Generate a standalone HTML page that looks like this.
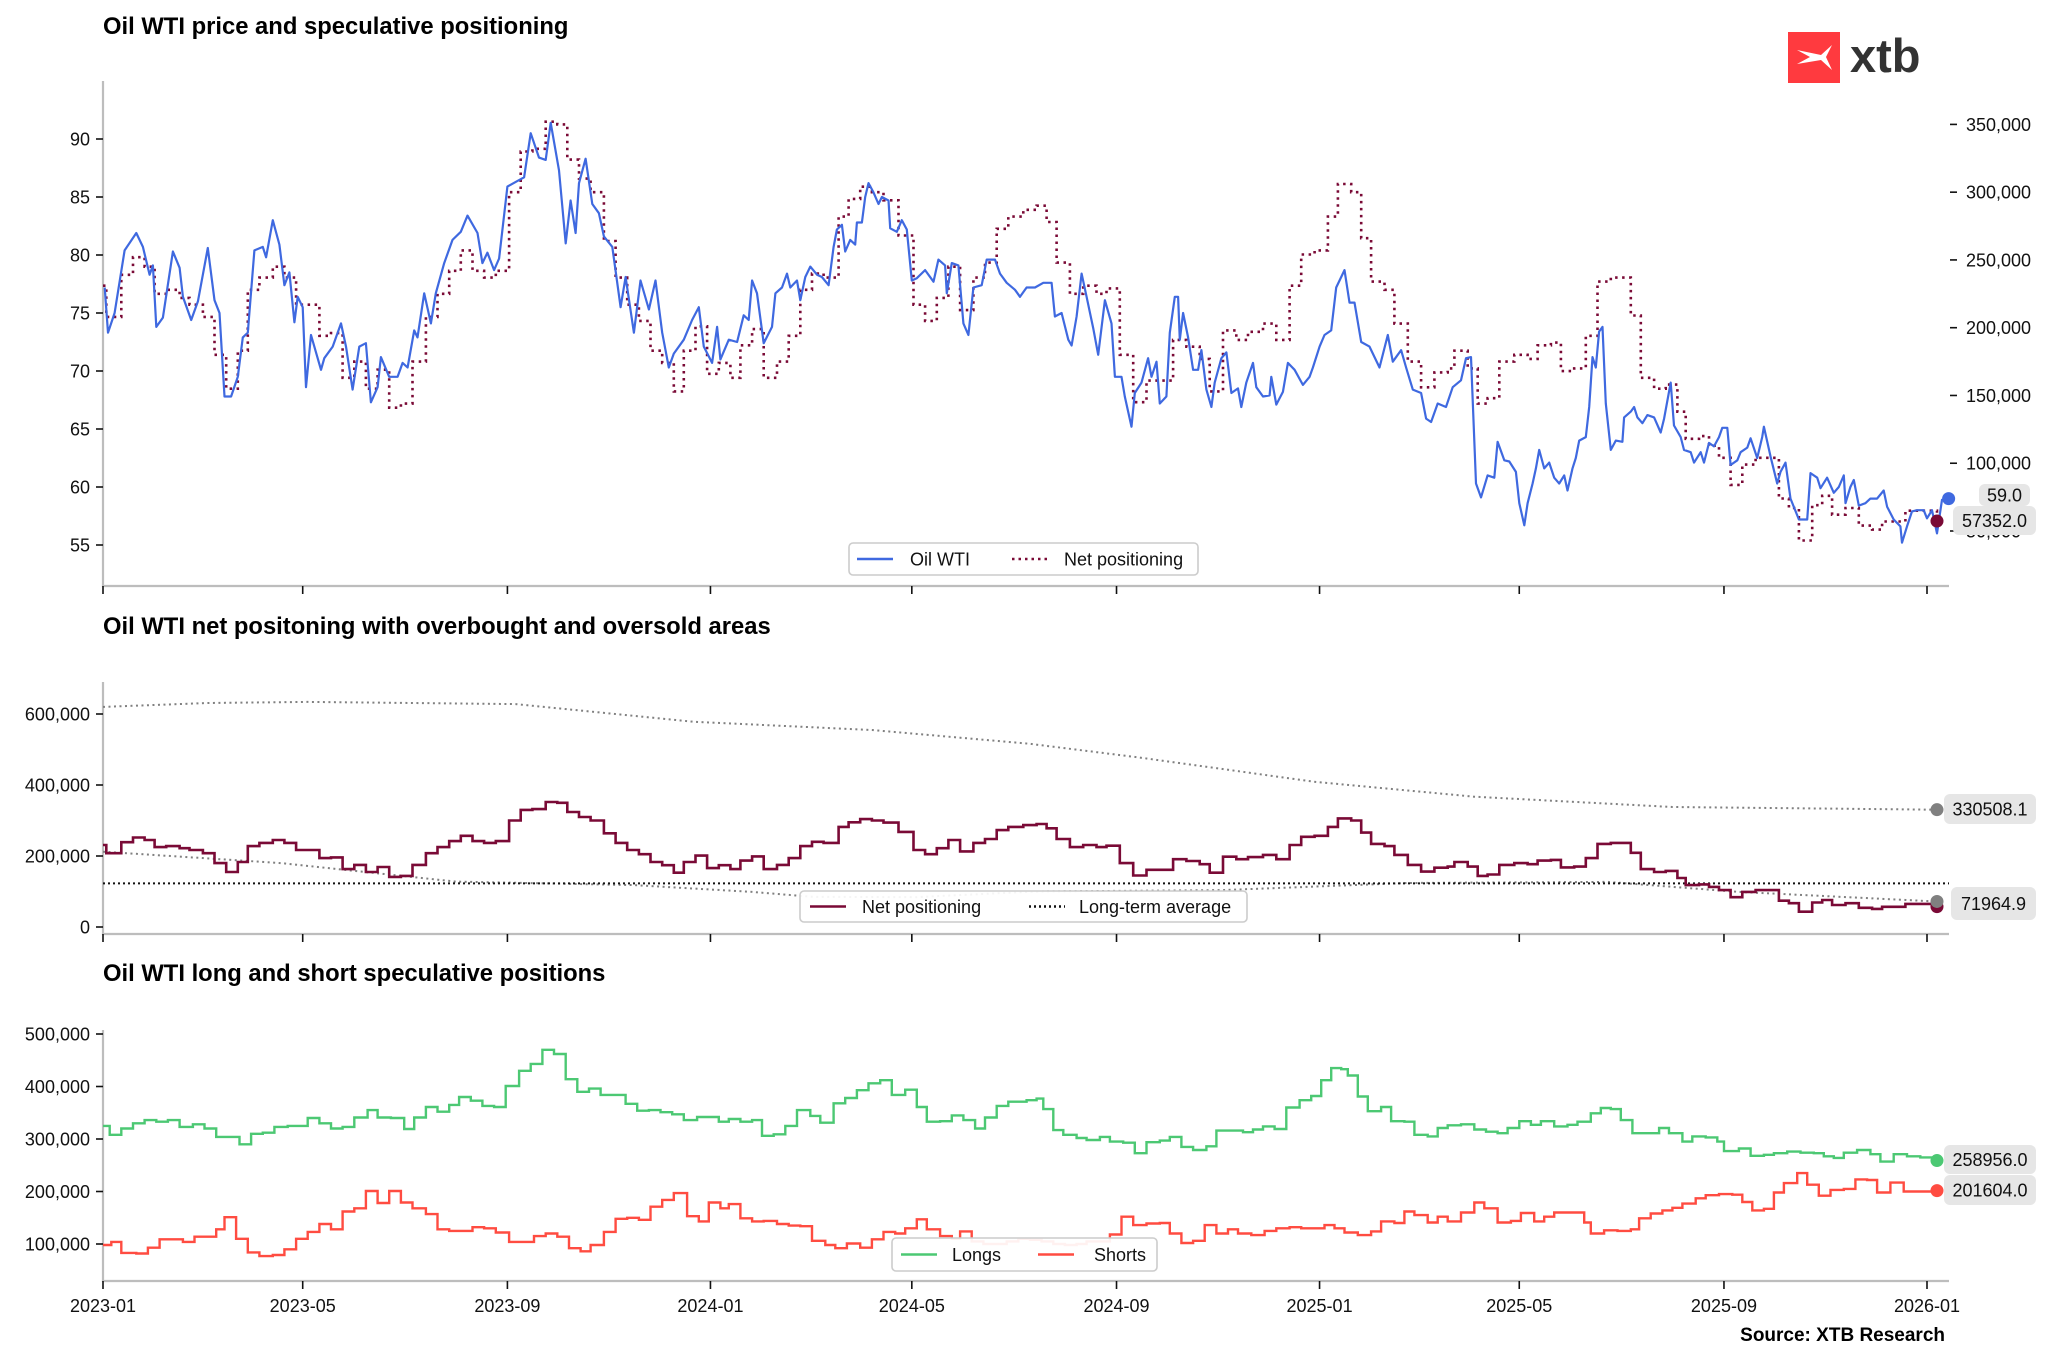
<!DOCTYPE html>
<html><head><meta charset="utf-8"><title>Oil WTI positioning</title>
<style>
html,body{margin:0;padding:0;background:#fff;}
svg{display:block;font-family:"Liberation Sans",Arial,sans-serif;}
.tk{font-size:18px;fill:#111;}
.ttl{font-size:23.8px;font-weight:bold;fill:#000;}
.lg{font-size:18px;fill:#111;}
</style></head>
<body>
<svg id="chart" width="2048" height="1362" viewBox="0 0 2048 1362" xmlns="http://www.w3.org/2000/svg">
  <rect width="2048" height="1362" fill="#fff"/>
  <text class="ttl" x="103" y="34">Oil WTI price and speculative positioning</text>
  <text class="ttl" x="103" y="634">Oil WTI net positoning with overbought and oversold areas</text>
  <text class="ttl" x="103" y="981">Oil WTI long and short speculative positions</text>
  <g>
    <rect x="1788" y="32" width="52" height="51" fill="#ff3a3f"/>
    <path d="M1797 50 L1821 55 L1832 45 L1826 57 L1832 70 L1821 60 L1797 64 L1810 57 Z" fill="#fff"/>
    <text x="1850" y="72" font-size="47" font-weight="bold" fill="#333">xtb</text>
  </g>
  <g id="layer"></g>
  <text x="1945" y="1341" text-anchor="end" font-size="19" font-weight="bold" fill="#000">Source: XTB Research</text>
</svg>
<script>
// ---- data (days since 2023-01-01) ----
const priceDays=[1,3,7,13,20,24,28,30,32,36,42,46,48,53,57,63,67,70,73,77,81,84,87,91,96,98,102,106,109,112,115,117,120,122,125,131,133,138,143,146,150,154,158,161,165,167,172,177,180,183,187,189,193,197,200,205,210,215,219,225,228,231,235,238,243,248,253,257,262,266,269,274,278,281,284,286,290,294,298,301,306,311,314,319,323,328,332,336,340,343,349,354,358,361,366,369,371,376,381,385,388,390,393,397,402,404,408,411,413,417,419,422,425,429,432,436,439,441,444,446,449,452,453,456,458,460,463,466,468,472,473,477,480,483,486,489,494,499,502,506,507,510,514,517,520,523,528,531,536,539,543,548,551,555,560,565,570,572,576,580,582,585,588,591,595,598,602,606,608,612,614,618,620,624,628,630,633,635,639,641,644,646,647,649,652,655,658,660,663,666,668,672,675,678,682,684,687,691,693,697,701,702,705,709,712,716,721,725,727,731,734,738,741,746,749,752,756,761,767,772,775,780,783,787,792,795,798,802,807,811,816,819,822,825,828,832,836,838,842,845,849,851,854,856,859,861,863,866,869,872,875,878,880,883,885,887,891,893,895,897,899,901,903,906,909,913,914,918,920,922,925,928,932,936,938,942,944,948,950,954,956,960,962,965,968,971,973,976,978,982,984,988,990,994,997,998,1002,1006,1008,1011,1014,1019,1024,1026,1030,1032,1036,1040,1043,1046,1047,1050,1052,1055,1059,1062,1066,1070,1072,1076,1080,1081,1084,1087,1090,1094,1096,1099,1102,1105,1109];
const priceVals=[77.2,73.3,75,80.4,81.9,80.7,78.3,79.1,73.8,74.6,80.3,78.9,76.4,74.4,76,80.6,76.1,75,67.8,67.8,69.5,72.9,73.3,80.4,80.7,79.8,83,80.9,77.4,78.5,74.2,76.4,75.5,68.6,73.1,70.1,71.1,72.1,74.1,72.1,68.4,72.1,72.4,67.3,68.6,71.2,69.5,69.5,70.7,70.3,73.5,72.9,76.7,74.1,76.7,79.3,81.3,82,83.4,81.9,79.3,80.2,78.7,79.7,85.9,86.3,86.7,90.5,88.4,88.2,91.4,87.3,81,84.7,81.9,86.2,88.3,84.4,83.6,81.6,80.7,75.5,78.1,73.3,77.8,75.3,77.8,73.3,70.3,71.5,72.7,74.4,75.5,72.1,70.7,73.8,71,72.7,72.5,74.8,74.4,77.8,76.7,72.4,73.8,76.7,77.2,78.4,77.2,77.8,76.1,78.1,79,78.3,78.1,77.4,80.7,82.2,82.6,80.3,81.3,80.9,82.8,82.8,85,86.2,85.4,84.4,85,84.7,82.3,82,83,82.2,77.8,78,78.7,77.7,79.6,79.1,76.7,79.3,79.1,74.1,73.1,77.2,77.4,79.6,79.6,78.4,77.6,77,76.4,77.2,77.2,77.6,77.6,74.7,75,72.7,72.2,74.7,78.4,76.4,73.7,71.4,76.1,74.1,69.5,69.5,67.8,65.2,68.1,69,71.1,69.5,70.8,67.2,67.8,73.3,76.4,76.4,72.7,75,72.9,70.1,70.1,71.8,68.4,66.9,69,71.1,71.6,68.1,68.5,66.9,69,70.7,68.6,67.8,67.9,69.5,67.1,68.2,70.7,70.1,68.8,69.5,70.3,72.1,73.1,73.5,77.2,78.7,75.9,75.9,72.5,72.1,70.3,73.1,70.8,71.8,70.3,68.4,68.1,65.9,65.6,67.2,66.9,68.6,69.2,71.1,71.2,60.3,59.1,61,60.8,63.9,62.3,62.2,61.3,58.6,56.7,58.6,60.3,61.6,63.2,61.6,62.1,60.8,60.3,61,59.7,61.6,62.5,64,64.3,66.9,71.2,70.3,73.4,73.8,67.2,63.2,64,63.9,66,66.5,66.9,66,65.5,66.2,66,64.7,65.9,69,65.3,64.3,63.2,63,62.1,63,62.1,63.8,63.5,64.3,65.1,65.1,61.9,62.3,63,63.4,64.2,62.5,64.3,65.2,62.6,60.3,61.3,62.1,59,57.2,57.2,61.2,60.8,59.9,60.8,59.5,60,61,58.6,60,60.6,58.4,58.6,59,59,59.7,58.3,57.2,56.6,55.2,56.6,57.9,58,58,57.3,58,56,58.9,59];
const netDays=[0,2,11,18,25,31,38,46,52,60,67,74,81,87,94,102,109,116,123,130,137,144,151,158,165,172,179,186,194,201,208,215,222,229,236,244,251,258,266,273,279,286,293,301,308,315,322,329,336,343,349,356,363,370,377,383,390,397,405,412,419,426,433,442,448,455,462,469,478,487,494,501,508,515,523,530,537,544,553,561,567,573,581,589,597,603,611,619,627,635,643,651,659,665,673,681,688,697,705,713,720,728,736,742,750,756,762,770,776,784,792,800,808,812,820,826,832,839,848,856,862,870,876,884,891,898,906,912,918,924,932,939,946,951,959,965,971,978,985,993,1001,1007,1013,1019,1027,1033,1039,1047,1055,1063,1069,1077,1083,1093,1102];
const netVals=[231000,208000,239000,252000,245000,225000,228000,222000,217000,208000,180000,155000,183000,228000,237000,245000,237000,217000,217000,194000,196000,163000,175000,155000,169000,141000,144000,175000,208000,225000,242000,257000,242000,237000,242000,300000,330000,332000,352000,350000,324000,310000,300000,264000,237000,217000,205000,183000,174000,153000,183000,201000,166000,174000,163000,187000,199000,163000,175000,194000,228000,240000,237000,282000,295000,304000,300000,294000,268000,217000,205000,222000,245000,213000,237000,248000,273000,282000,287000,290000,278000,248000,225000,231000,225000,229000,180000,145000,161000,161000,191000,186000,177000,153000,198000,191000,197000,203000,191000,231000,254000,257000,282000,306000,300000,266000,234000,228000,203000,175000,156000,167000,170000,183000,170000,144000,148000,175000,180000,177000,187000,189000,168000,170000,194000,234000,237000,237000,209000,163000,155000,158000,138000,118000,120000,113000,104000,84000,99000,104000,104000,74000,67000,43000,69000,76000,62000,67000,54000,51000,57000,57000,65000,65000,57352];
const upperDays=[0,63,123,248,355,462,557,625,728,824,943,1102];
const upperVals=[620000,631000,634000,628000,578000,555000,516000,476000,409000,367000,338000,330508.1];
const lowerDays=[0,107,212,319,390,426,488,560,673,784,904,983,1102];
const lowerVals=[212000,180000,128000,118000,99000,85000,84000,100000,104000,124000,127000,99000,71964.9];
const longTermAvg=123000;
const longDays=[0,4,11,18,25,32,39,46,54,61,68,75,82,89,96,103,111,118,123,130,137,144,151,159,165,173,181,187,194,201,208,214,221,228,235,242,250,257,264,271,278,285,292,299,308,314,321,328,335,342,349,357,364,370,376,383,390,396,403,410,417,425,431,439,446,453,460,467,474,482,489,495,503,510,517,524,530,537,544,551,555,561,565,571,577,585,591,599,605,613,620,627,635,641,648,655,663,669,677,685,691,697,704,711,719,726,732,738,744,748,754,760,768,774,782,788,796,802,808,816,824,831,838,844,851,858,864,872,880,886,894,900,906,912,919,928,935,941,949,955,963,970,974,983,990,998,1004,1012,1020,1028,1034,1040,1046,1054,1062,1068,1076,1084,1092,1102];
const longVals=[325000,308000,320000,330000,336000,333000,336000,323000,328000,320000,304000,304000,290000,310000,312000,323000,325000,325000,340000,330000,320000,323000,341000,355000,341000,340000,319000,341000,361000,352000,365000,380000,373000,363000,361000,401000,430000,443000,470000,462000,414000,390000,396000,384000,384000,367000,354000,355000,351000,347000,336000,342000,342000,333000,338000,333000,336000,306000,309000,325000,355000,344000,331000,368000,378000,393000,406000,412000,384000,394000,361000,333000,334000,345000,336000,320000,341000,363000,371000,371000,374000,377000,357000,317000,308000,302000,298000,304000,295000,293000,273000,294000,297000,304000,285000,279000,286000,316000,316000,313000,318000,324000,319000,360000,374000,382000,412000,435000,433000,421000,381000,353000,361000,334000,333000,308000,305000,321000,326000,328000,318000,314000,311000,321000,334000,327000,334000,324000,327000,333000,349000,359000,357000,336000,311000,311000,321000,311000,295000,305000,303000,295000,277000,282000,268000,270000,273000,276000,274000,273000,267000,264000,274000,279000,271000,257000,271000,267000,265000,258956];
const shortDays=[0,5,11,20,27,34,43,48,55,63,68,73,80,87,94,102,109,116,123,130,137,144,151,158,165,172,179,186,194,201,208,215,222,229,236,244,251,259,266,273,280,287,293,301,308,315,322,329,336,343,351,358,364,371,376,383,390,397,405,412,419,426,434,440,447,455,462,469,476,482,489,495,503,510,515,522,529,536,543,550,557,564,571,578,585,591,605,612,619,627,635,641,648,655,662,669,676,682,690,698,705,713,720,728,734,740,746,754,762,768,776,782,788,796,802,808,816,824,830,838,846,852,860,866,872,881,890,894,902,910,918,923,930,937,943,949,957,963,971,979,985,991,998,1004,1010,1018,1024,1031,1038,1046,1053,1060,1066,1074,1082,1092,1102];
const shortVals=[98000,104000,83000,82000,93000,109000,109000,104000,114000,114000,128000,151000,110000,84000,77000,79000,90000,110000,123000,138000,128000,162000,168000,201000,178000,201000,179000,168000,157000,128000,125000,125000,132000,130000,122000,104000,104000,115000,120000,114000,92000,86000,98000,123000,148000,150000,146000,171000,184000,197000,153000,143000,179000,168000,176000,149000,143000,144000,138000,135000,134000,106000,98000,92000,101000,93000,109000,123000,120000,130000,147000,128000,115000,110000,124000,105000,100000,100000,105000,110000,108000,105000,100000,98000,100000,105000,118000,152000,136000,139000,140000,120000,102000,106000,136000,120000,128000,120000,117000,125000,130000,132000,130000,130000,136000,130000,122000,117000,124000,143000,140000,162000,155000,141000,152000,143000,160000,179000,168000,141000,144000,159000,143000,152000,160000,160000,141000,120000,126000,125000,128000,149000,158000,164000,169000,177000,187000,193000,195000,194000,180000,164000,167000,198000,216000,235000,213000,192000,203000,205000,223000,222000,198000,217000,200000,200000,201604];
const xTickLabels=["2023-01","2023-05","2023-09","2024-01","2024-05","2024-09","2025-01","2025-05","2025-09","2026-01"];
const priceTicks=[55,60,65,70,75,80,85,90];
const netRightTicks=[50000,100000,150000,200000,250000,300000,350000];
const midTicks=[0,200000,400000,600000];
const botTicks=[100000,200000,300000,400000,500000];

// ---- scales ----
const NS="http://www.w3.org/2000/svg";
const layer=document.getElementById('layer');
function lin(d0,d1,r0,r1){return v=>r0+(v-d0)*(r1-r0)/(d1-d0);}
const X=lin(0,1096,103,1927);
const yPrice=lin(55,90,545,139);
const yNetR=lin(50000,350000,531,124.4);
const yMid=lin(0,600000,927,714);
const yBot=lin(100000,500000,1244,1034);
function dayOf(s){const [y,m]=s.split('-').map(Number);return (Date.UTC(y,m-1,1)-Date.UTC(2023,0,1))/86400000;}
function el(tag,attrs,parent){const e=document.createElementNS(NS,tag);for(const k in attrs)e.setAttribute(k,attrs[k]);(parent||layer).appendChild(e);return e;}
function linePath(days,vals,ys){return days.map((d,i)=>(i?'L':'M')+X(d).toFixed(1)+' '+ys(vals[i]).toFixed(1)).join(' ');}
function stepPath(days,vals,ys){let p='M'+X(days[0]).toFixed(1)+' '+ys(vals[0]).toFixed(1);for(let i=1;i<days.length;i++){p+=' H'+X(days[i]).toFixed(1)+' V'+ys(vals[i]).toFixed(1);}return p;}

const panels=[{top:81,bot:586},{top:682,bot:934},{top:1030,bot:1281}];
panels.forEach((p,pi)=>{
  const sp=el('path',{d:`M103 ${p.top} V${p.bot} H1949`,fill:'none',stroke:'#bdbdbd','stroke-width':2.2});
  
  
  xTickLabels.forEach(t=>{
    const x=X(dayOf(t));
    const tk=el('line',{x1:x,x2:x,y1:p.bot,y2:p.bot+8,stroke:'#111','stroke-width':1.6});
    
    
    if(pi===2){
      const tx=el('text',{x:x,y:p.bot+31,'text-anchor':'middle',class:'tk'});tx.textContent=t;
      
      
    }
  });
});
function yTicks(ticks,ys,fmt,right){
  ticks.forEach(v=>{
    const y=ys(v);
    const t=el('line',{x1:right?1950:96,x2:right?1957:103,y1:y,y2:y,stroke:'#111','stroke-width':1.6});
    
    
    const tx=el('text',{x:right?1966:90,y:y+6.5,'text-anchor':right?'start':'end',class:'tk'});tx.textContent=fmt(v);
    
    
  });
}
const fmtK=v=>v.toLocaleString('en-US');
yTicks(priceTicks,yPrice,v=>String(v),false);
yTicks(netRightTicks,yNetR,fmtK,true);
yTicks(midTicks,yMid,fmtK,false);
yTicks(botTicks,yBot,fmtK,false);

// top panel
let e=el('path',{d:stepPath(netDays,netVals,yNetR),fill:'none',stroke:'#7a0a36','stroke-width':2.6,'stroke-dasharray':'2.5 4.5'});


e=el('path',{d:linePath(priceDays,priceVals,yPrice),fill:'none',stroke:'#3f69e0','stroke-width':2.2,'stroke-linejoin':'round'});


// middle panel
e=el('path',{d:linePath(upperDays,upperVals,yMid),fill:'none',stroke:'#808080','stroke-width':2,'stroke-dasharray':'2 3.5'});


e=el('path',{d:linePath(lowerDays,lowerVals,yMid),fill:'none',stroke:'#808080','stroke-width':2,'stroke-dasharray':'2 3.5'});


e=el('line',{x1:103,x2:1949,y1:yMid(longTermAvg),y2:yMid(longTermAvg),stroke:'#111','stroke-width':2,'stroke-dasharray':'2 3'});


e=el('path',{d:stepPath(netDays,netVals,yMid),fill:'none',stroke:'#7a0a36','stroke-width':2.6});


// bottom panel
e=el('path',{d:stepPath(longDays,longVals,yBot),fill:'none',stroke:'#4cc873','stroke-width':2.4});


e=el('path',{d:stepPath(shortDays,shortVals,yBot),fill:'none',stroke:'#ff4c41','stroke-width':2.4});



// end markers and value labels
function endLabel(cx,cy,color,bx,by,bw,bh,txt,name){
  const c=el('circle',{cx:cx,cy:cy,r:6.5,fill:color});
  
  
  const r=el('rect',{x:bx,y:by,width:bw,height:bh,rx:6,fill:'#e6e6e6'});
  
  
  const t=el('text',{x:bx+bw/2,y:by+bh/2+6.5,'text-anchor':'middle',class:'tk'});t.textContent=txt;
  
  
}
const lp=priceDays.length-1, ln=netDays.length-1;
endLabel(X(priceDays[lp]),yPrice(priceVals[lp]),'#3f69e0',1979,484,51,22,priceVals[lp].toFixed(1),'price');
endLabel(X(netDays[ln]),yNetR(netVals[ln]),'#7a0a36',1953,506,83,29,netVals[ln].toFixed(1),'net-top');
endLabel(X(upperDays[upperDays.length-1]),yMid(upperVals[upperVals.length-1]),'#808080',1944,794,92,30,upperVals[upperVals.length-1].toFixed(1),'overbought');
endLabel(X(netDays[ln]),yMid(netVals[ln]),'#7a0a36',-50,-50,1,1,'','net-mid');
endLabel(X(lowerDays[lowerDays.length-1]),yMid(lowerVals[lowerVals.length-1]),'#808080',1951,887,85,33,lowerVals[lowerVals.length-1].toFixed(1),'oversold');
endLabel(X(longDays[longDays.length-1]),yBot(longVals[longVals.length-1]),'#4cc873',1944,1145,92,29,longVals[longVals.length-1].toFixed(1),'longs');
endLabel(X(shortDays[shortDays.length-1]),yBot(shortVals[shortVals.length-1]),'#ff4c41',1944,1175,92,30,shortVals[shortVals.length-1].toFixed(1),'shorts');

// legends
function legend(name,bx,by,bw,bh,items){
  const g=el('g',{});
  
  
  el('rect',{x:bx,y:by,width:bw,height:bh,rx:4,fill:'#fff',stroke:'#cccccc','stroke-width':1.6,'fill-opacity':0.92},g);
  items.forEach(it=>{
    const cy=by+bh/2;
    const l=el('line',{x1:it.x,x2:it.x+36,y1:cy,y2:cy,stroke:it.c,'stroke-width':2.4},g);
    if(it.dash)l.setAttribute('stroke-dasharray',it.dash);
    const t=el('text',{x:it.tx,y:cy+6.5,class:'lg'},g);t.textContent=it.t;
    
    
  });
}
legend('top-legend',849,543,349,32,[{x:857,tx:910,c:'#3f69e0',t:'Oil WTI'},{x:1012,tx:1064,c:'#7a0a36',t:'Net positioning',dash:'2.5 4'}]);
legend('middle-legend',800,891,447,31,[{x:810,tx:862,c:'#7a0a36',t:'Net positioning'},{x:1029,tx:1079,c:'#111',t:'Long-term average',dash:'2 3'}]);
legend('bottom-legend',892,1238,265,33,[{x:901,tx:952,c:'#4cc873',t:'Longs'},{x:1038,tx:1094,c:'#ff4c41',t:'Shorts'}]);
</script>
</body></html>
